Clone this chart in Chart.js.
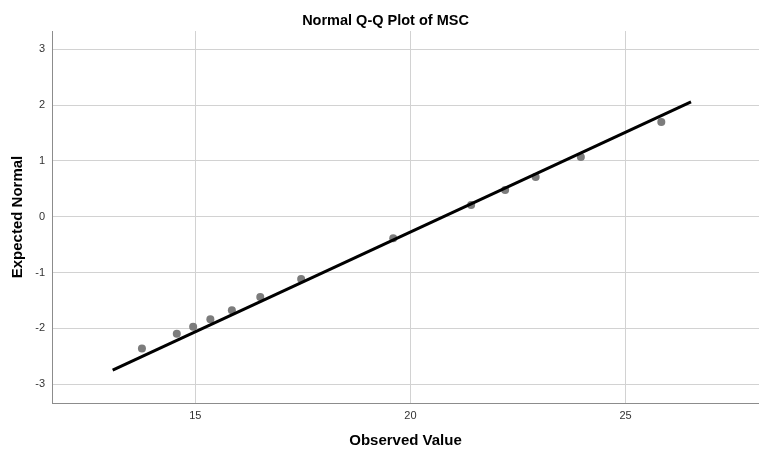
<!DOCTYPE html>
<html>
<head>
<meta charset="utf-8">
<title>Normal Q-Q Plot of MSC</title>
<script src="https://cdn.jsdelivr.net/npm/chart.js@4.4.1/dist/chart.umd.min.js"></script>
<style>
  html, body { margin: 0; padding: 0; background: #fff; }
  #wrap { width: 759px; height: 450px; }
</style>
</head>
<body>
<div id="wrap"><canvas id="qq-chart"></canvas></div>
<script>
// values
const observed = [13.76, 14.57, 14.95, 15.35, 15.85, 16.51, 17.46, 19.60, 21.41, 22.20, 22.91, 23.96, 25.83];
const expected = [-2.365, -2.097, -1.971, -1.839, -1.677, -1.439, -1.116, -0.387, 0.210, 0.478, 0.711, 1.070, 1.697];

// reference line end points
const lineX = [13.08, 26.52];
const lineY = [-2.75, 2.06];

const xTicks = [15, 20, 25];
const yTicks = [-3, -2, -1, 0, 1, 2, 3];

const fontFamily = "'Liberation Sans', Arial, sans-serif";
const qqCanvas = document.querySelector("#qq-chart").getContext('2d');

let toPoints = (xs, ys) => xs.map((x, i) => ({ x: x, y: ys[i] }));

let setTicks = (values) => (scale) => {
  scale.ticks = values.map(v => ({ value: v }));
};

const qqChart = new Chart(qqCanvas, {
  type: 'scatter',
  data: {
    datasets: [
      {
        label: 'Observed',
        data: toPoints(observed, expected),
        backgroundColor: '#7c7c7c',
        borderWidth: 0,
        pointRadius: 4,
        order: 2
      },
      {
        type: 'line',
        label: 'Reference',
        data: toPoints(lineX, lineY),
        borderColor: '#000',
        borderWidth: 3,
        pointRadius: 0,
        fill: false,
        order: 1
      }
    ]
  },
  options: {
    responsive: true,
    maintainAspectRatio: false,
    animation: false,
    layout: { autoPadding: false, padding: { left: 12, right: 0, top: 0, bottom: 0 } },
    plugins: {
      legend: { display: false },
      tooltip: { enabled: false },
      title: {
        display: true,
        text: 'Normal Q-Q Plot of MSC',
        color: '#000',
        font: { family: fontFamily, size: 14.5, weight: 'bold' },
        padding: { top: 12, bottom: 1.6 }
      }
    },
    scales: {
      x: {
        type: 'linear',
        min: 11.67,
        max: 28.1,
        afterBuildTicks: setTicks(xTicks),
        afterFit: (scale) => {
          scale.height = 47;
          scale.paddingLeft = 0;
          scale.paddingRight = 0;
        },
        grid: { color: '#d2d2d2', lineWidth: 1, drawTicks: false },
        border: { color: '#8c8c8c', width: 1 },
        ticks: {
          color: '#333',
          padding: 6,
          font: { family: fontFamily, size: 11 }
        },
        title: {
          display: true,
          text: 'Observed Value',
          color: '#000',
          font: { family: fontFamily, size: 15, weight: 'bold' },
          padding: { top: 0, bottom: 0 }
        }
      },
      y: {
        type: 'linear',
        min: -3.34,
        max: 3.33,
        afterBuildTicks: setTicks(yTicks),
        afterFit: (scale) => { scale.width = 40; },
        grid: { color: '#d2d2d2', lineWidth: 1, drawTicks: false },
        border: { color: '#8c8c8c', width: 1 },
        ticks: {
          color: '#333',
          padding: 7,
          font: { family: fontFamily, size: 11 }
        },
        title: {
          display: true,
          text: 'Expected Normal',
          color: '#000',
          font: { family: fontFamily, size: 15, weight: 'bold', lineHeight: 0.8 },
          padding: { top: 0, bottom: 0 }
        }
      }
    }
  }
});
</script>
</body>
</html>
